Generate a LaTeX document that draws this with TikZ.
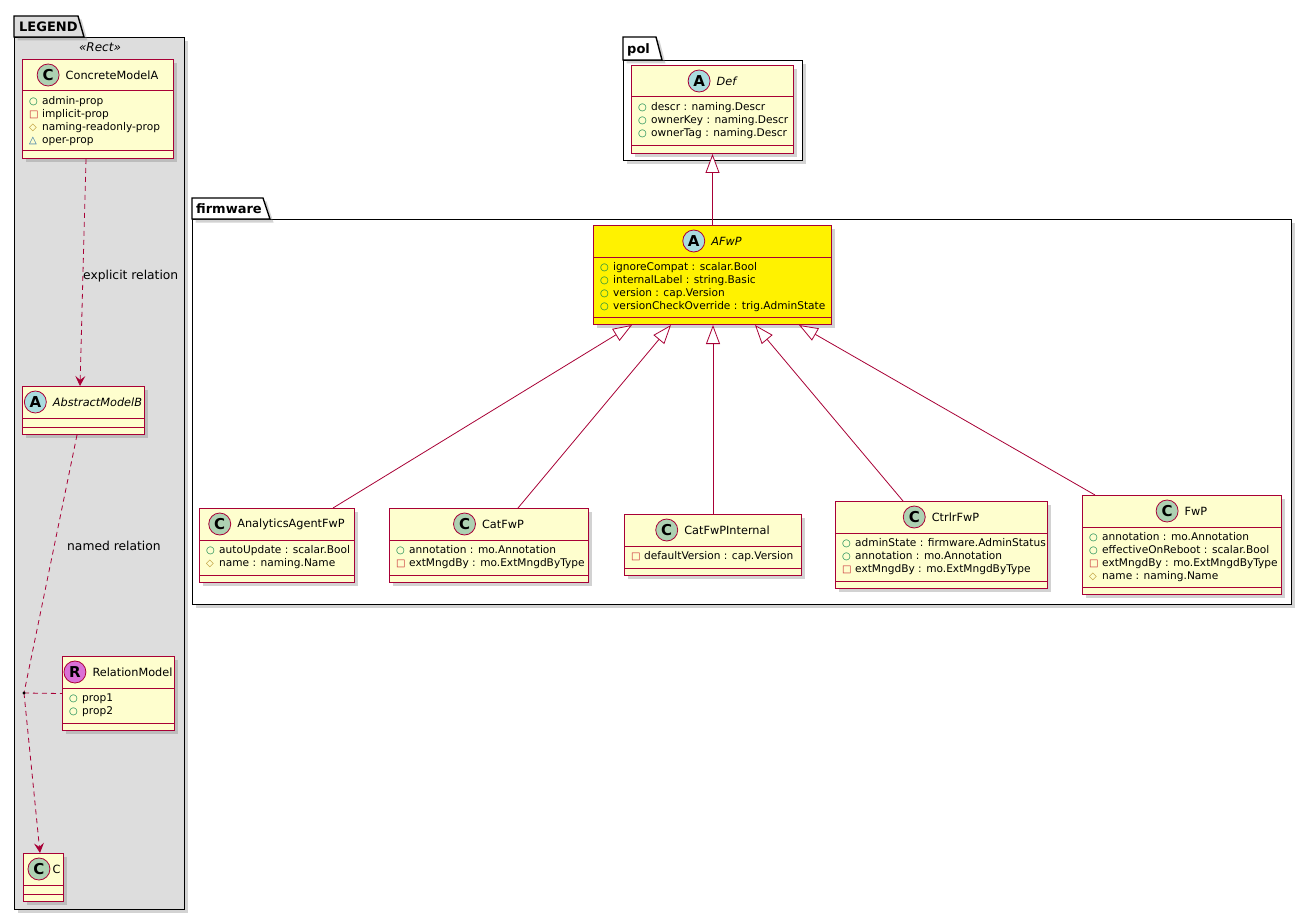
\documentclass[tikz,border=0pt]{standalone}
\usepackage{fontspec}
\setmainfont{DejaVu Sans}
\usepackage{xcolor}
\usepackage{tikz}
\usetikzlibrary{positioning, arrows.meta, shadows, calc}
\definecolor{umlred}{HTML}{A80036}
\definecolor{classfill}{HTML}{FEFECE}
\definecolor{spotclass}{HTML}{ADD1B2}
\definecolor{spotabstract}{HTML}{A9DCDF}
\definecolor{spotrel}{HTML}{DA70D6}
\definecolor{legendgray}{HTML}{DDDDDD}
\definecolor{pubgreen}{HTML}{038048}
\definecolor{privred}{HTML}{C82930}
\definecolor{protgold}{HTML}{B38D22}
\definecolor{pkgblue}{HTML}{1963A0}
\newcommand{\vpub}{\makebox[13pt][l]{\fontsize{10}{10}\selectfont\textcolor{pubgreen}{○}}}
\newcommand{\vpriv}{\makebox[13pt][l]{\fontsize{10}{10}\selectfont\textcolor{privred}{□}}}
\newcommand{\vprot}{\makebox[13pt][l]{\fontsize{10}{10}\selectfont\textcolor{protgold}{◇}}}
\newcommand{\vpkg}{\makebox[13pt][l]{\fontsize{10}{10}\selectfont\textcolor{pkgblue}{△}}}

\begin{document}
\begin{tikzpicture}[
        x=1pt, y=-1pt,
        shade/.style={drop shadow={shadow xshift=3.5pt, shadow yshift=-3.5pt, opacity=0.35}},
        pkg/.style={draw=black, line width=1.4pt, shade},
        pkgbody/.style={pkg, rectangle, anchor=north west, inner sep=0pt},
        pkgname/.style={anchor=base west, inner sep=0pt, font=\fontsize{13}{15}\selectfont\bfseries},
        umlbox/.style={rectangle, draw=umlred, line width=1pt, fill=classfill, anchor=north west, inner sep=0pt, shade},
        spot/.style={circle, draw=umlred, line width=0.8pt, minimum size=22pt, inner sep=0pt, font=\fontsize{15}{15}\selectfont\bfseries},
        cname/.style={inner sep=0pt, font=\fontsize{11.3}{13}\selectfont},
        attr/.style={anchor=west, inner sep=0pt, text height=7.5pt, text depth=2.5pt, font=\fontsize{10.6}{13}\selectfont},
        sepline/.style={draw=umlred, line width=1pt},
        gen/.style={draw=umlred, line width=0.8pt, -{Triangle[length=19pt, width=14pt, fill=white]}},
        deplink/.style={draw=umlred, line width=0.8pt, dash pattern=on 5pt off 4pt},
        dep/.style={deplink, -{Stealth[length=10pt, width=10pt, inset=4pt]}},
        lbl/.style={anchor=west, inner sep=0pt, font=\fontsize{12.3}{14}\selectfont}
    ]
        \useasboundingbox (0,0) rectangle (1311,920);

        % Packages
        \node[pkgbody, fill=legendgray, minimum width=170pt, minimum height=872pt] (legend) at (14,37) {};
        \draw[pkg, fill=legendgray] (legend.north west) -- ++(0,-21) -- ++(64,0) -- ++(6,21) -- cycle;
        \node[pkgname] (legend-name) at ([xshift=5pt, yshift=5.5pt]legend.north west) {LEGEND};
        \node[font=\fontsize{12}{14}\selectfont\itshape] (rectlbl) at (100,47) {«Rect»};

        \node[pkgbody, fill=white, minimum width=179pt, minimum height=100pt] (pol) at (623,60) {};
        \draw[pkg, fill=white] (pol.north west) -- ++(0,-23) -- ++(33,0) -- ++(6,23) -- cycle;
        \node[pkgname] (pol-name) at ([xshift=4pt, yshift=6pt]pol.north west) {pol};

        \node[pkgbody, fill=white, minimum width=1099pt, minimum height=385pt] (firmware) at (192,219) {};
        \draw[pkg, fill=white] (firmware.north west) -- ++(0,-21) -- ++(71,0) -- ++(7,21) -- cycle;
        \node[pkgname] (firmware-name) at ([xshift=4pt, yshift=5.5pt]firmware.north west) {firmware};

        % Legend classes
        \node[umlbox, minimum width=151pt, minimum height=99pt] (concreteA) at (22,59) {};
        \draw[sepline] ([yshift=-32pt]concreteA.north west) -- ([yshift=-32pt]concreteA.north east);
        \draw[sepline] ([yshift=8pt]concreteA.south west) -- ([yshift=8pt]concreteA.south east);
        \node[cname, xshift=14pt] (concreteA-name) at ([yshift=-16pt]concreteA.north) {ConcreteModelA};
        \node[spot, fill=spotclass, left=6pt of concreteA-name] (concreteA-spot) {C};
        \foreach \txt [count=\i] in {\vpub admin-prop, \vpriv implicit-prop, \vprot naming-readonly-prop, \vpkg oper-prop}
            \node[attr] (concreteA-a\i) at ($(concreteA.north west)+(7,30+13*\i)$) {\txt};

        \node[umlbox, minimum width=122pt, minimum height=48pt] (abstractB) at (22,386) {};
        \draw[sepline] ([yshift=-32pt]abstractB.north west) -- ([yshift=-32pt]abstractB.north east);
        \draw[sepline] ([yshift=8pt]abstractB.south west) -- ([yshift=8pt]abstractB.south east);
        \node[cname, xshift=14pt, font=\fontsize{11.3}{13}\selectfont\itshape] (abstractB-name) at ([yshift=-16pt]abstractB.north) {AbstractModelB};
        \node[spot, fill=spotabstract, left=6pt of abstractB-name] (abstractB-spot) {A};

        \node[umlbox, minimum width=112pt, minimum height=74pt] (relModel) at (62,656) {};
        \draw[sepline] ([yshift=-32pt]relModel.north west) -- ([yshift=-32pt]relModel.north east);
        \draw[sepline] ([yshift=8pt]relModel.south west) -- ([yshift=8pt]relModel.south east);
        \node[cname, xshift=14pt] (relModel-name) at ([yshift=-16pt]relModel.north) {RelationModel};
        \node[spot, fill=spotrel, left=6pt of relModel-name] (relModel-spot) {R};
        \foreach \txt [count=\i] in {\vpub prop1, \vpub prop2}
            \node[attr] (relModel-a\i) at ($(relModel.north west)+(7,30+13*\i)$) {\txt};

        \node[umlbox, minimum width=40pt, minimum height=48pt] (classC) at (23,853) {};
        \draw[sepline] ([yshift=-32pt]classC.north west) -- ([yshift=-32pt]classC.north east);
        \draw[sepline] ([yshift=8pt]classC.south west) -- ([yshift=8pt]classC.south east);
        \node[cname, xshift=13pt] (classC-name) at ([yshift=-16pt]classC.north) {C};
        \node[spot, fill=spotclass, left=2pt of classC-name] (classC-spot) {C};

        % pol
        \node[umlbox, minimum width=162pt, minimum height=88pt] (def) at (631,65) {};
        \draw[sepline] ([yshift=-32pt]def.north west) -- ([yshift=-32pt]def.north east);
        \draw[sepline] ([yshift=8pt]def.south west) -- ([yshift=8pt]def.south east);
        \node[cname, xshift=14pt, font=\fontsize{11.3}{13}\selectfont\itshape] (def-name) at ([yshift=-16pt]def.north) {Def};
        \node[spot, fill=spotabstract, left=6pt of def-name] (def-spot) {A};
        \foreach \txt [count=\i] in {\vpub descr : naming.Descr, \vpub ownerKey : naming.Descr, \vpub ownerTag : naming.Descr}
            \node[attr] (def-a\i) at ($(def.north west)+(7,30+13*\i)$) {\txt};

        % firmware
        \node[umlbox, fill=yellow, minimum width=238pt, minimum height=99pt] (afwp) at (593,225) {};
        \draw[sepline] ([yshift=-32pt]afwp.north west) -- ([yshift=-32pt]afwp.north east);
        \draw[sepline] ([yshift=8pt]afwp.south west) -- ([yshift=8pt]afwp.south east);
        \node[cname, xshift=14pt, font=\fontsize{11.3}{13}\selectfont\itshape] (afwp-name) at ([yshift=-16pt]afwp.north) {AFwP};
        \node[spot, fill=spotabstract, left=6pt of afwp-name] (afwp-spot) {A};
        \foreach \txt [count=\i] in {\vpub ignoreCompat : scalar.Bool, \vpub internalLabel : string.Basic, \vpub version : cap.Version, \vpub versionCheckOverride : trig.AdminState}
            \node[attr] (afwp-a\i) at ($(afwp.north west)+(7,30+13*\i)$) {\txt};

        \node[umlbox, minimum width=155pt, minimum height=74pt] (agent) at (199,508) {};
        \draw[sepline] ([yshift=-32pt]agent.north west) -- ([yshift=-32pt]agent.north east);
        \draw[sepline] ([yshift=8pt]agent.south west) -- ([yshift=8pt]agent.south east);
        \node[cname, xshift=14pt] (agent-name) at ([yshift=-16pt]agent.north) {AnalyticsAgentFwP};
        \node[spot, fill=spotclass, left=6pt of agent-name] (agent-spot) {C};
        \foreach \txt [count=\i] in {\vpub autoUpdate : scalar.Bool, \vprot name : naming.Name}
            \node[attr] (agent-a\i) at ($(agent.north west)+(7,30+13*\i)$) {\txt};

        \node[umlbox, minimum width=199pt, minimum height=74pt] (catfw) at (389,508) {};
        \draw[sepline] ([yshift=-32pt]catfw.north west) -- ([yshift=-32pt]catfw.north east);
        \draw[sepline] ([yshift=8pt]catfw.south west) -- ([yshift=8pt]catfw.south east);
        \node[cname, xshift=14pt] (catfw-name) at ([yshift=-16pt]catfw.north) {CatFwP};
        \node[spot, fill=spotclass, left=6pt of catfw-name] (catfw-spot) {C};
        \foreach \txt [count=\i] in {\vpub annotation : mo.Annotation, \vpriv extMngdBy : mo.ExtMngdByType}
            \node[attr] (catfw-a\i) at ($(catfw.north west)+(7,30+13*\i)$) {\txt};

        \node[umlbox, minimum width=177pt, minimum height=61pt] (catint) at (624,514) {};
        \draw[sepline] ([yshift=-32pt]catint.north west) -- ([yshift=-32pt]catint.north east);
        \draw[sepline] ([yshift=8pt]catint.south west) -- ([yshift=8pt]catint.south east);
        \node[cname, xshift=14pt] (catint-name) at ([yshift=-16pt]catint.north) {CatFwPInternal};
        \node[spot, fill=spotclass, left=6pt of catint-name] (catint-spot) {C};
        \node[attr] (catint-a1) at ($(catint.north west)+(7,43)$) {\vpriv defaultVersion : cap.Version};

        \node[umlbox, minimum width=212pt, minimum height=87pt] (ctrlr) at (835,501) {};
        \draw[sepline] ([yshift=-32pt]ctrlr.north west) -- ([yshift=-32pt]ctrlr.north east);
        \draw[sepline] ([yshift=8pt]ctrlr.south west) -- ([yshift=8pt]ctrlr.south east);
        \node[cname, xshift=14pt] (ctrlr-name) at ([yshift=-16pt]ctrlr.north) {CtrlrFwP};
        \node[spot, fill=spotclass, left=6pt of ctrlr-name] (ctrlr-spot) {C};
        \foreach \txt [count=\i] in {\vpub adminState : firmware.AdminStatus, \vpub annotation : mo.Annotation, \vpriv extMngdBy : mo.ExtMngdByType}
            \node[attr] (ctrlr-a\i) at ($(ctrlr.north west)+(7,30+13*\i)$) {\txt};

        \node[umlbox, minimum width=199pt, minimum height=99pt] (fwp) at (1082,495) {};
        \draw[sepline] ([yshift=-32pt]fwp.north west) -- ([yshift=-32pt]fwp.north east);
        \draw[sepline] ([yshift=8pt]fwp.south west) -- ([yshift=8pt]fwp.south east);
        \node[cname, xshift=14pt] (fwp-name) at ([yshift=-16pt]fwp.north) {FwP};
        \node[spot, fill=spotclass, left=6pt of fwp-name] (fwp-spot) {C};
        \foreach \txt [count=\i] in {\vpub annotation : mo.Annotation, \vpub effectiveOnReboot : scalar.Bool, \vpriv extMngdBy : mo.ExtMngdByType, \vprot name : naming.Name}
            \node[attr] (fwp-a\i) at ($(fwp.north west)+(7,30+13*\i)$) {\txt};

        % Inheritance
        \draw[gen] (afwp.north) -- (def.south);
        \draw[gen] ([xshift=134pt]agent.north west) -- ([xshift=39pt]afwp.south west);
        \draw[gen] ([xshift=129pt]catfw.north west) -- ([xshift=78pt]afwp.south west);
        \draw[gen] (catint.north) -- (catint.north |- afwp.south);
        \draw[gen] ([xshift=68pt]ctrlr.north west) -- ([xshift=162pt]afwp.south west);
        \draw[gen] ([xshift=13pt]fwp.north west) -- ([xshift=206pt]afwp.south west);

        % Legend relations
        \draw[dep] ([xshift=64pt]concreteA.south west) -- ([xshift=58pt]abstractB.north west);
        \node[lbl] (explicitlbl) at (83,276) {explicit relation};
        \coordinate (assoc) at (24,693);
        \draw[deplink] ([xshift=55pt]abstractB.south west) -- (assoc);
        \draw[dep] (assoc) -- ([xshift=17pt]classC.north west);
        \draw[deplink] (assoc) -- (relModel.west);
        \fill (assoc) circle (1.6);
        \node[lbl] (namedlbl) at (67,546) {named relation};
    \end{tikzpicture}
\end{document}
